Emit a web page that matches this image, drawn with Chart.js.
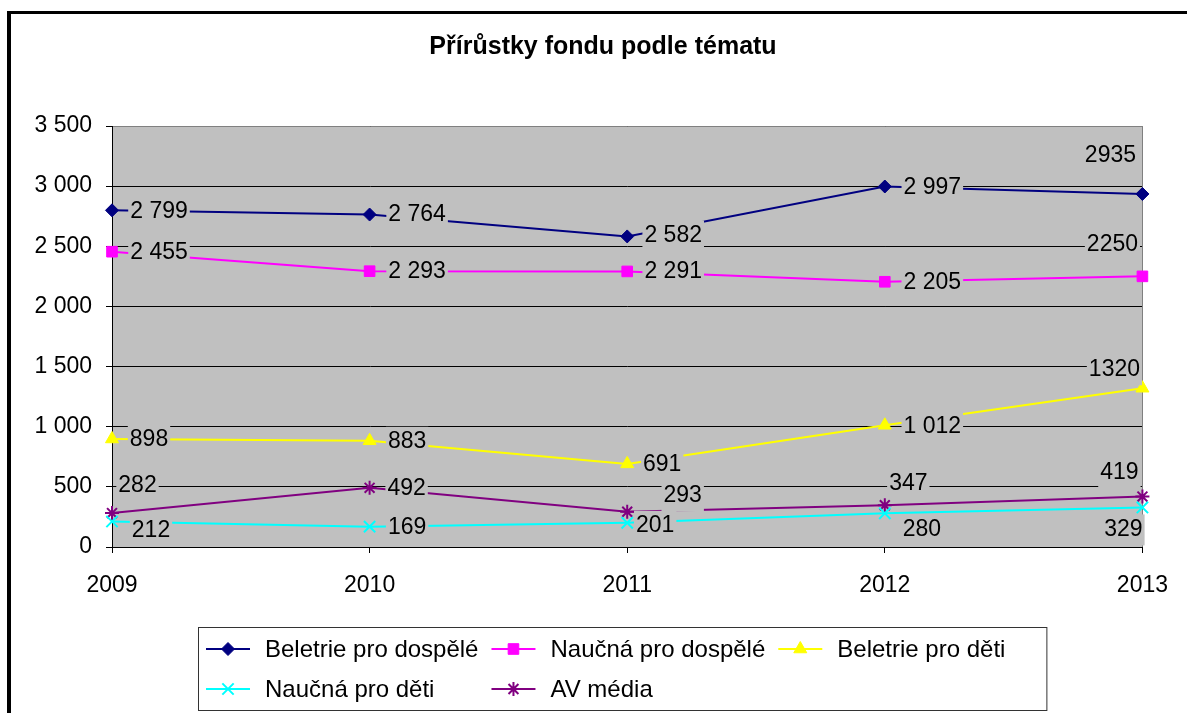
<!DOCTYPE html>
<html><head><meta charset="utf-8">
<script src="https://cdn.jsdelivr.net/npm/chart.js@4.4.1/dist/chart.umd.min.js"></script>
<style>html,body{margin:0;padding:0;background:#fff;overflow:hidden}canvas{display:block}</style>
</head><body>
<canvas id="c" width="1187" height="713"></canvas>
<script>
// ---- data ----
const chartTitle = 'Přírůstky fondu podle tématu';
const years = ['2009', '2010', '2011', '2012', '2013'];
const seriesNames = ['Beletrie pro dospělé', 'Naučná pro dospělé', 'Beletrie pro děti', 'Naučná pro děti', 'AV média'];
const beletrieDospeli = [2799, 2764, 2582, 2997, 2935];
const naucnaDospeli = [2455, 2293, 2291, 2205, 2250];
const beletrieDeti = [898, 883, 691, 1012, 1320];
const naucnaDeti = [212, 169, 201, 280, 329];
const avMedia = [282, 492, 293, 347, 419];
const yTicks = [0, 500, 1000, 1500, 2000, 2500, 3000, 3500];
// the last year's labels in the source have no thousands separator
const labelGrouped = [true, true, true, true, false];

// ---- style / placement ----
const FONT = '"Liberation Sans", Arial, Helvetica, sans-serif';
const colors = ['#000080', '#FF00FF', '#FFFF00', '#00FFFF', '#800080'];
const pointStyles = ['rectRot', 'rect', 'triangle', 'crossRot', 'star'];
const pointRadii = [6.5, 7.5, 7.5, 8, 7];
// data label centre offset from its point (dx, dy), per series and year
const labelOffsets = [
  [[47, 0], [47.5, -1], [46, -2], [47.5, 0], [-32, -39]],
  [[47, 0], [47.5, -1], [46, -1], [47.5, 0], [-30, -33]],
  [[37, 0], [37.5, 0], [35, 0], [47.5, 0], [-28, -20]],
  [[39, 8.5], [37.5, 0], [28, 2], [37, 15], [-19, 21]],
  [[25.5, -28], [37, 0], [55.5, -17], [23.5, -23], [-23, -25]]
];
const seriesData = [beletrieDospeli, naucnaDospeli, beletrieDeti, naucnaDeti, avMedia];

function groupNum(v) { return String(v).replace(/\B(?=(\d{3})+(?!\d))/g, ' '); }

const datasets = seriesData.map((d, i) => ({
  label: seriesNames[i],
  data: d,
  borderColor: colors[i],
  backgroundColor: colors[i],
  pointBackgroundColor: colors[i],
  pointBorderColor: colors[i],
  pointStyle: pointStyles[i],
  pointRadius: pointRadii[i],
  pointBorderWidth: (i >= 3) ? 2 : 1,
  borderWidth: 2,
  tension: 0,
  clip: false
}));

const framePlugin = {
  id: 'frame',
  beforeDraw(chart) {
    const ctx = chart.ctx, a = chart.chartArea;
    ctx.save();
    ctx.fillStyle = '#fff';
    ctx.fillRect(0, 0, chart.width, chart.height);
    // outer chart border
    ctx.fillStyle = '#000';
    ctx.fillRect(7, 11, 4, chart.height);
    ctx.fillRect(7, 11, chart.width, 3);
    // plot area
    ctx.fillStyle = '#C0C0C0';
    ctx.fillRect(a.left, a.top, a.right - a.left, a.bottom - a.top);
    ctx.restore();
  },
  beforeDatasetsDraw(chart) {
    const ctx = chart.ctx, a = chart.chartArea;
    ctx.save();
    ctx.strokeStyle = '#808080';
    ctx.lineWidth = 1;
    ctx.beginPath();
    ctx.moveTo(a.left + 1, Math.round(a.top) + 0.5);
    ctx.lineTo(Math.round(a.right) + 0.5, Math.round(a.top) + 0.5);
    ctx.lineTo(Math.round(a.right) + 0.5, a.bottom);
    ctx.stroke();
    ctx.restore();
  }
};

const labelPlugin = {
  id: 'dataLabels',
  afterDatasetsDraw(chart) {
    const ctx = chart.ctx;
    ctx.save();
    ctx.font = '23px ' + FONT;
    ctx.textAlign = 'center';
    ctx.textBaseline = 'middle';
    chart.data.datasets.forEach((ds, i) => {
      const meta = chart.getDatasetMeta(i);
      meta.data.forEach((pt, j) => {
        const v = ds.data[j];
        const txt = labelGrouped[j] ? groupNum(v) : String(v);
        const w = ctx.measureText(txt).width;
        const cx = pt.x + labelOffsets[i][j][0];
        const cy = pt.y + labelOffsets[i][j][1];
        ctx.fillStyle = '#C0C0C0';
        ctx.fillRect(cx - w / 2 - 2, cy - 14, w + 4, 31);
        ctx.fillStyle = '#000';
        ctx.fillText(txt, cx, cy + 1);
      });
    });
    ctx.restore();
  }
};

const titleLegendPlugin = {
  id: 'titleLegend',
  afterDraw(chart) {
    const ctx = chart.ctx;
    ctx.save();
    // title
    ctx.fillStyle = '#000';
    ctx.font = 'bold 25px ' + FONT;
    ctx.textAlign = 'center';
    ctx.textBaseline = 'middle';
    ctx.fillText(chartTitle, 603, 47);
    // legend
    ctx.font = '24px ' + FONT;
    const perRow = 3, sample = 44, textGap = 15, colGap = 13;
    const widths = seriesNames.map(n => ctx.measureText(n).width);
    const colW = [];
    for (let c = 0; c < perRow; c++) {
      let m = 0;
      for (let k = c; k < seriesNames.length; k += perRow) m = Math.max(m, widths[k]);
      colW.push(sample + textGap + m + colGap);
    }
    const boxL = 198, boxT = 627, rowH = 40, startX = boxL + 8, firstRowY = boxT + 22;
    const contentW = colW.reduce((s, w) => s + w, 0);
    const boxW = contentW + 8 + 28, boxH = 83;
    ctx.strokeStyle = '#333';
    ctx.lineWidth = 1;
    ctx.strokeRect(boxL + 0.5, boxT + 0.5, boxW, boxH);
    ctx.textAlign = 'left';
    seriesNames.forEach((n, k) => {
      const c = k % perRow, r = Math.floor(k / perRow);
      let x = startX;
      for (let q = 0; q < c; q++) x += colW[q];
      const y = firstRowY + r * rowH;
      ctx.strokeStyle = colors[k];
      ctx.lineWidth = 2;
      ctx.beginPath();
      ctx.moveTo(x, y);
      ctx.lineTo(x + sample, y);
      ctx.stroke();
      const opts = { pointStyle: pointStyles[k], radius: pointRadii[k], borderWidth: (k >= 3) ? 2 : 1, rotation: 0 };
      ctx.fillStyle = colors[k];
      ctx.strokeStyle = colors[k];
      ctx.lineWidth = opts.borderWidth;
      Chart.helpers.drawPoint(ctx, opts, x + sample / 2, y);
      ctx.fillStyle = '#000';
      ctx.textBaseline = 'middle';
      ctx.fillText(n, x + sample + textGap, y + 1);
    });
    ctx.restore();
  }
};

new Chart(document.getElementById('c'), {
  type: 'line',
  data: { labels: years, datasets },
  options: {
    responsive: false,
    animation: false,
    devicePixelRatio: 1,
    layout: { padding: { left: 0, top: 126, right: 41, bottom: 106 } },
    plugins: { legend: { display: false }, title: { display: false }, tooltip: { enabled: false } },
    scales: {
      x: {
        type: 'category',
        offset: false,
        grid: { drawOnChartArea: false, drawTicks: true, tickLength: 6, color: '#000', lineWidth: 1 },
        border: { display: true, color: '#000', width: 1 },
        ticks: { color: '#000', font: { family: FONT, size: 23 }, padding: 19, maxRotation: 0, autoSkip: false },
        afterFit: s => { s.height = 60; }
      },
      y: {
        min: 0,
        max: 3500,
        afterBuildTicks: s => { s.ticks = yTicks.map(v => ({ value: v })); },
        grid: { color: '#000', lineWidth: 1, tickLength: 6, drawTicks: true },
        border: { display: true, color: '#000', width: 1 },
        ticks: { color: '#000', font: { family: FONT, size: 23 }, padding: 14, callback: v => groupNum(v) },
        afterFit: s => { s.width = 112; }
      }
    }
  },
  plugins: [framePlugin, labelPlugin, titleLegendPlugin]
});
</script>
</body></html>
